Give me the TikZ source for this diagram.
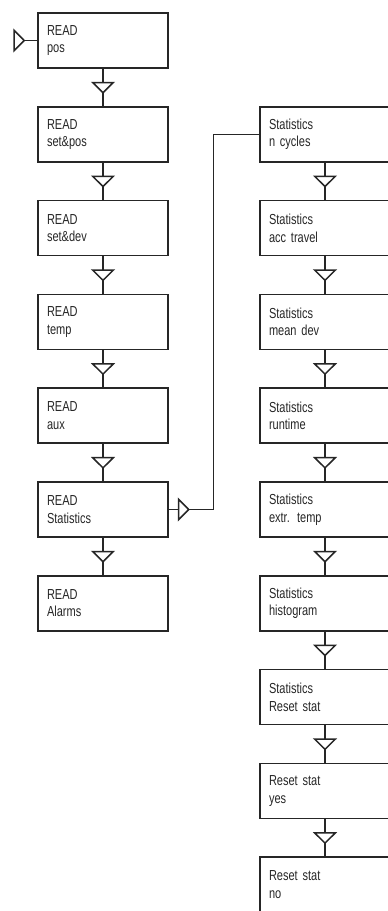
\documentclass[tikz,border=0pt]{standalone}
\usepackage{fontspec}
\setmainfont{Liberation Sans}[FakeStretch=0.76,WordSpace=0.7]
\usetikzlibrary{positioning}
\usetikzlibrary{arrows.meta}
\usetikzlibrary{decorations.markings}
\definecolor{ink}{HTML}{262626}

\begin{document}
\begin{tikzpicture}[x=1pt,y=-1pt,line join=miter,
  menu/.style={draw=ink,line width=1.5pt,minimum width=130pt,minimum height=55pt,
    text width=112pt,inner xsep=9pt,inner ysep=2pt,align=left,
    font=\fontsize{14.5}{17.5}\selectfont,text=ink},
  flow/.style={draw=ink,line width=1.5pt,postaction={decorate},
    decoration={markings,mark=at position #1 with
      {\arrow{Triangle[length=12pt,width=24pt,fill=white,line width=1.5pt]}}}}]
\clip (0,0) rectangle (388,911);
% READ menu
\node[menu] (l0) at (103,40.5) {READ\\pos};
\node[menu,below=37.3pt of l0] (l1) {READ\\set\&pos};
\node[menu,below=37.3pt of l1] (l2) {READ\\set\&dev};
\node[menu,below=37.3pt of l2] (l3) {READ\\temp};
\node[menu,below=37.3pt of l3] (l4) {READ\\aux};
\node[menu,below=37.3pt of l4] (l5) {READ\\Statistics};
\node[menu,below=37.3pt of l5] (l6) {READ\\Alarms};
% Statistics menu
\node[menu,right=90.5pt of l1] (s1) {Statistics\\n cycles};
\node[menu,below=37.3pt of s1] (s2) {Statistics\\acc travel};
\node[menu,below=37.3pt of s2] (s3) {Statistics\\mean dev};
\node[menu,below=37.3pt of s3] (s4) {Statistics\\runtime};
\node[menu,below=37.3pt of s4] (s5) {Statistics\\extr. temp};
\node[menu,below=37.3pt of s5] (s6) {Statistics\\histogram};
\node[menu,below=37.3pt of s6] (s7) {Statistics\\Reset stat};
\node[menu,below=37.3pt of s7] (s8) {Reset stat\\yes};
\node[menu,below=37.3pt of s8] (s9) {Reset stat\\no};
% entry
\coordinate (in) at ([xshift=-23pt]l0.west);
\draw[flow=11pt] (in) -- (l0);
% steps
\draw[flow=25pt] (l0) -- (l1);
\draw[flow=25pt] (l1) -- (l2);
\draw[flow=25pt] (l2) -- (l3);
\draw[flow=25pt] (l3) -- (l4);
\draw[flow=25pt] (l4) -- (l5);
\draw[flow=25pt] (l5) -- (l6);
\draw[flow=25pt] (s1) -- (s2);
\draw[flow=25pt] (s2) -- (s3);
\draw[flow=25pt] (s3) -- (s4);
\draw[flow=25pt] (s4) -- (s5);
\draw[flow=25pt] (s5) -- (s6);
\draw[flow=25pt] (s6) -- (s7);
\draw[flow=25pt] (s7) -- (s8);
\draw[flow=25pt] (s8) -- (s9);
% jump to Statistics
\draw[flow=21pt] (l5.east) -- ++(44.7,0) |- (s1.west);
\end{tikzpicture}
\end{document}
